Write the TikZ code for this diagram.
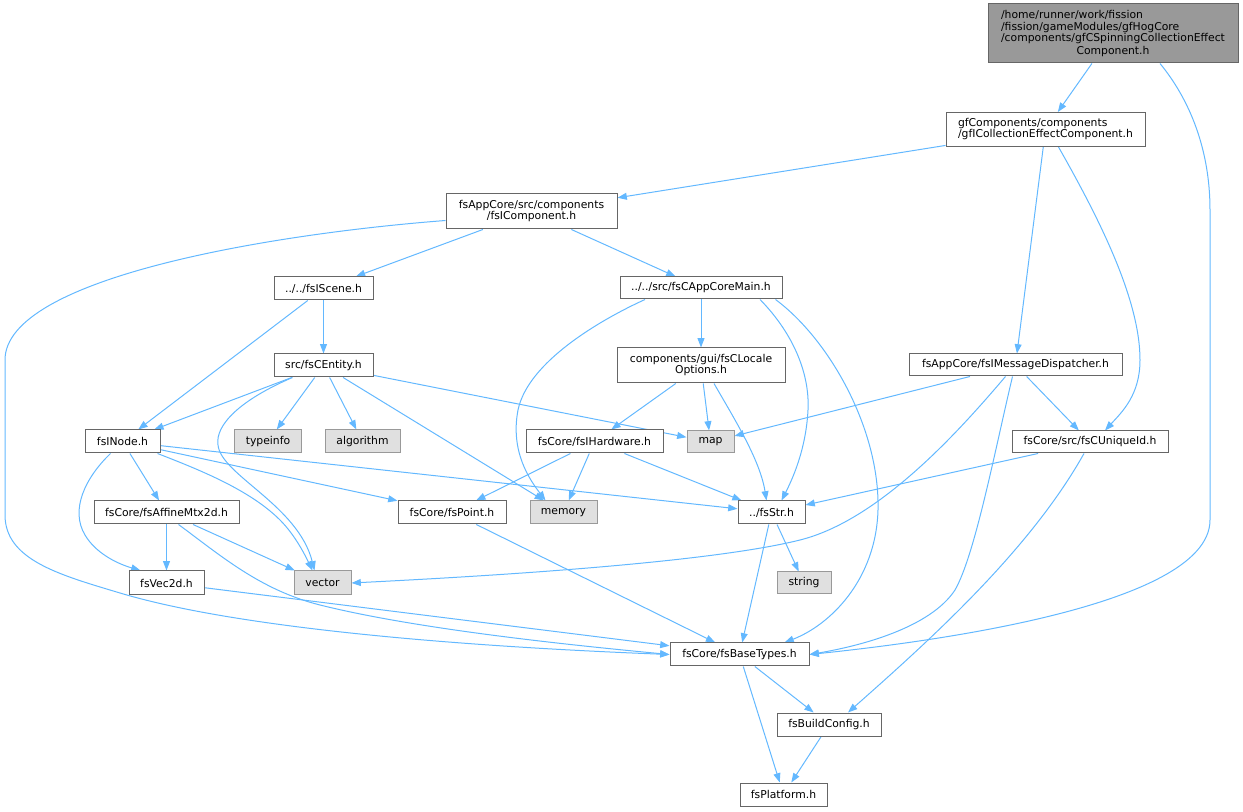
\documentclass[tikz,border=0pt]{standalone}
\usepackage{fontspec}
\setmainfont{DejaVu Sans}
\usetikzlibrary{arrows.meta,calc,backgrounds}
\definecolor{edgec}{HTML}{63B8FF}
\definecolor{bordc}{HTML}{666666}
\definecolor{extb}{HTML}{999999}
\definecolor{extf}{HTML}{E0E0E0}
\definecolor{topf}{HTML}{999999}
\tikzset{
  hfile/.style={draw=bordc, fill=white, line width=0.75pt, inner sep=0pt, align=center, font=\fontsize{8.1pt}{8.25pt}\selectfont},
  extfile/.style={hfile, draw=extb, fill=extf},
  topfile/.style={hfile, fill=topf},
  sz/.style 2 args={minimum width=#1*0.75pt, minimum height=#2*0.75pt},
  dep/.style={draw=edgec, line width=0.75pt, -{Triangle[length=7pt,width=5.2pt]}}
}
\begin{document}
\begin{tikzpicture}[x=0.75pt,y=-0.75pt]
\useasboundingbox (0,0) rectangle (1243,812);
% nodes
\node[topfile, sz={250}{59}] (top) at (1113,33.5) {\begin{tabular}[b]{@{}l@{}}/home/runner/work/fission\\/fission/gameModules/gfHogCore\\/components/gfCSpinningCollectionEffect\end{tabular}\\Component.h};
\node[hfile, sz={199}{34}] (gfI) at (1045.5,129.5) {\begin{tabular}[b]{@{}l@{}}gfComponents/components\\/gfICollectionEffectComponent.h\end{tabular}};
\node[hfile, sz={171}{35}] (comp) at (531.5,211.5) {fsAppCore/src/components\\/fsIComponent.h};
\node[hfile, sz={99}{23}] (scene) at (323.5,288.5) {../../fsIScene.h};
\node[hfile, sz={162}{22}] (main) at (701,288) {../../src/fsCAppCoreMain.h};
\node[hfile, sz={99}{23}] (entity) at (323.5,365.5) {src/fsCEntity.h};
\node[hfile, sz={168}{35}] (gui) at (701,365.5) {components/gui/fsCLocale\\Options.h};
\node[hfile, sz={213}{22}] (disp) at (1015.5,365) {fsAppCore/fsIMessageDispatcher.h};
\node[hfile, sz={75}{23}] (node) at (122.5,441.5) {fsINode.h};
\node[extfile, sz={67}{23}] (typeinfo) at (268,441.5) {typeinfo};
\node[extfile, sz={75}{23}] (algorithm) at (362.5,441.5) {algorithm};
\node[extfile, sz={47}{22}] (map) at (710.5,442) {map};
\node[hfile, sz={137}{23}] (hw) at (594.5,441.5) {fsCore/fsIHardware.h};
\node[hfile, sz={156}{22}] (uid) at (1090,442) {fsCore/src/fsCUniqueId.h};
\node[hfile, sz={145}{23}] (affine) at (166.5,512.5) {fsCore/fsAffineMtx2d.h};
\node[hfile, sz={108}{23}] (point) at (452,512.5) {fsCore/fsPoint.h};
\node[extfile, sz={67}{23}] (memory) at (563.5,512.5) {memory};
\node[hfile, sz={67}{23}] (str) at (771.5,512.5) {../fsStr.h};
\node[hfile, sz={75}{24}] (vec2d) at (166.5,583) {fsVec2d.h};
\node[extfile, sz={57}{24}] (vector) at (322.5,583) {vector};
\node[extfile, sz={54}{22}] (string) at (804,583) {string};
\node[hfile, sz={139}{23}] (base) at (739.5,654.5) {fsCore/fsBaseTypes.h};
\node[hfile, sz={104}{23}] (build) at (829,724.5) {fsBuildConfig.h};
\node[hfile, sz={87}{23}] (platform) at (783.5,794.5) {fsPlatform.h};
% edges
\begin{pgfonlayer}{background}
\draw[dep] (top) -- (gfI);
\draw[dep] ($(top.south)+(47,0)$) .. controls (1190,100) and (1210,150) .. (1210,210) -- (1210,520) .. controls (1210,610) and (900,645) .. (base.east);
\draw[dep] (gfI) -- (comp);
\draw[dep] (gfI) -- (disp);
\draw[dep] ($(gfI.south)+(13,0)$) .. controls (1100,220) and (1140,300) .. (1140,360) .. controls (1140,395) and (1122,412) .. ($(uid.north)+(15,0)$);
\draw[dep] ($(comp.south west)+(0,-9)$) .. controls (270,234) and (5,278) .. (5,360) -- (5,515) .. controls (5,560) and (60,575) .. (120,593) .. controls (250,632) and (500,648) .. (base.west);
\draw[dep] (comp) -- (scene);
\draw[dep] (comp) -- (main);
\draw[dep] (scene) -- (node);
\draw[dep] (scene) -- (entity);
\draw[dep] (main) -- (gui);
\draw[dep] ($(main.south)+(-56,0)$) .. controls (600,320) and (528,362) .. (518,410) .. controls (510,452) and (530,480) .. ($(memory.north)+(-18,0)$);
\draw[dep] ($(main.south)+(59,0)$) .. controls (790,330) and (810,370) .. (808,410) .. controls (806,450) and (792,480) .. ($(str.north)+(10,0)$);
\draw[dep] ($(main.south east)+(-7,0)$) .. controls (830,340) and (880,430) .. (878,510) .. controls (876,580) and (830,625) .. ($(base.north)+(45,0)$);
\draw[dep] (gui) -- (hw);
\draw[dep] (gui) -- (map);
\draw[dep] ($(gui.south)+(13,0)$) .. controls (735,420) and (760,460) .. ($(str.north)+(-5,0)$);
\draw[dep] (disp) -- (map);
\draw[dep] (disp) -- (uid);
\draw[dep] ($(disp.south)+(-10,0)$) .. controls (960,430) and (880,520) .. (800,540) .. controls (700,565) and (450,578) .. (vector.east);
\draw[dep] ($(disp.south)+(-3,0)$) .. controls (995,450) and (975,555) .. (955,590) .. controls (930,628) and (860,646) .. (base.east);
\draw[dep] (entity) -- (node);
\draw[dep] (entity) -- (typeinfo);
\draw[dep] (entity) -- (algorithm);
\draw[dep] (entity) -- (map);
\draw[dep] (entity) -- (memory);
\draw[dep] ($(entity.south)+(-31,0)$) .. controls (240,400) and (215,425) .. (218,445) .. controls (221,475) and (298,505) .. ($(vector.north)+(-8,0)$);
\draw[dep] (node) -- (affine);
\draw[dep] ($(node.south)+(-12,0)$) .. controls (85,478) and (70,510) .. (85,535) .. controls (95,552) and (115,563) .. ($(vec2d.north)+(-26,0)$);
\draw[dep] ($(node.south east)+(-3,0)$) .. controls (200,470) and (250,490) .. (280,520) .. controls (295,535) and (305,555) .. ($(vector.north)+(-10,0)$);
\draw[dep] (node) -- (point);
\draw[dep] (node) -- (str);
\draw[dep] (hw) -- (point);
\draw[dep] (hw) -- (memory);
\draw[dep] (hw) -- (str);
\draw[dep] (uid) -- (str);
\draw[dep] ($(uid.south)+(-6,0)$) .. controls (1030,550) and (930,640) .. ($(build.north)+(19,0)$);
\draw[dep] (affine) -- (vec2d);
\draw[dep] (affine) -- (vector);
\draw[dep] ($(affine.south)+(12,0)$) .. controls (220,555) and (260,590) .. (320,605) .. controls (420,630) and (580,646) .. (base.west);
\draw[dep] (point) -- (base);
\draw[dep] (str) -- (string);
\draw[dep] (str) -- (base);
\draw[dep] (vec2d) -- (base);
\draw[dep] (base) -- (build);
\draw[dep] (base) -- (platform);
\draw[dep] (build) -- (platform);
\end{pgfonlayer}
\end{tikzpicture}
\end{document}
